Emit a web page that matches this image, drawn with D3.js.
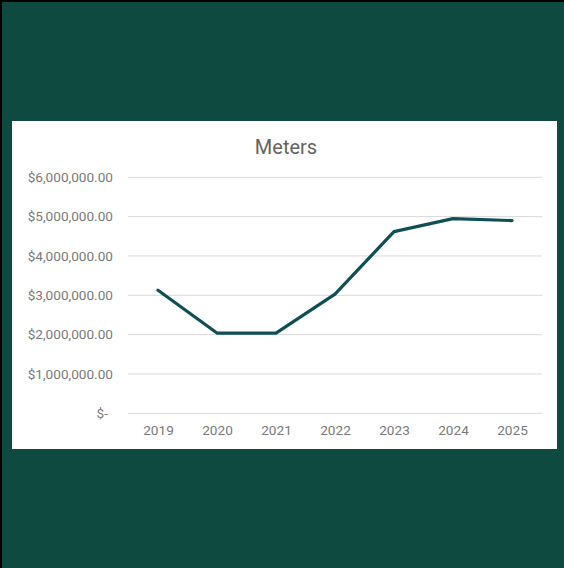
<!DOCTYPE html>
<html><head><meta charset="utf-8">
<script src="https://cdn.jsdelivr.net/npm/d3@7"></script>
<style>
html,body{margin:0;padding:0;background:#0e4a40;}
svg{display:block;}
</style></head>
<body>
<script>
const years = ["2019","2020","2021","2022","2023","2024","2025"];
const meters = [3130000, 2040000, 2040000, 3030000, 4620000, 4950000, 4900000];
const yTicks = [0, 1000000, 2000000, 3000000, 4000000, 5000000, 6000000];
const title = "Meters";

const W = 564, H = 568;
const svg = d3.select("body").append("svg").attr("width", W).attr("height", H);
svg.append("rect").attr("width", W).attr("height", H).attr("fill", "#0e4a40");
svg.append("rect").attr("x",0).attr("y",0).attr("width",W).attr("height",2).attr("fill","#000");
svg.append("rect").attr("x",0).attr("y",0).attr("width",2).attr("height",H).attr("fill","#000");
svg.append("rect").attr("x",12).attr("y",121).attr("width",545).attr("height",328).attr("fill","#fff");

const font = "Roboto, 'Open Sans', sans-serif";
svg.append("text").attr("x",286).attr("y",154).attr("text-anchor","middle")
  .attr("font-family",font).attr("font-size",20).attr("fill","#636363").text(title);

const x = d3.scalePoint().domain(years).range([158, 512]);
const y = d3.scaleLinear().domain([0, 6000000]).range([413.3, 177.3]);

const fmt = v => v === 0 ? "$-" : "$" + d3.format(",.2f")(v);
const grid = svg.append("g");
grid.selectAll("line").data(yTicks).join("line")
  .attr("x1",128).attr("x2",542).attr("y1",d=>y(d)).attr("y2",d=>y(d))
  .attr("stroke","#d9d9d9").attr("stroke-width",1);

const gyy = svg.append("g").attr("transform","translate(128,0)")
  .call(d3.axisLeft(y).tickValues(yTicks).tickSize(0).tickPadding(15).tickFormat(fmt));
gyy.select(".domain").remove();
gyy.selectAll("text").attr("font-family",font).attr("font-size",13.6).attr("fill","#7a7a7a")
  .attr("dx", d => d === 0 ? -5 : 0);

const gx = svg.append("g").attr("transform","translate(0,413.3)")
  .call(d3.axisBottom(x).tickSize(0).tickPadding(12));
gx.select(".domain").remove();
gx.selectAll("text").attr("font-family",font).attr("font-size",13.6).attr("fill","#7a7a7a");

const line = d3.line().x((d,i)=>x(years[i])).y(d=>y(d));
svg.append("path").datum(meters).attr("d", line).attr("fill","none")
  .attr("stroke","#0f4f55").attr("stroke-width",3.2).attr("stroke-linejoin","round").attr("stroke-linecap","round");
</script>
</body></html>
